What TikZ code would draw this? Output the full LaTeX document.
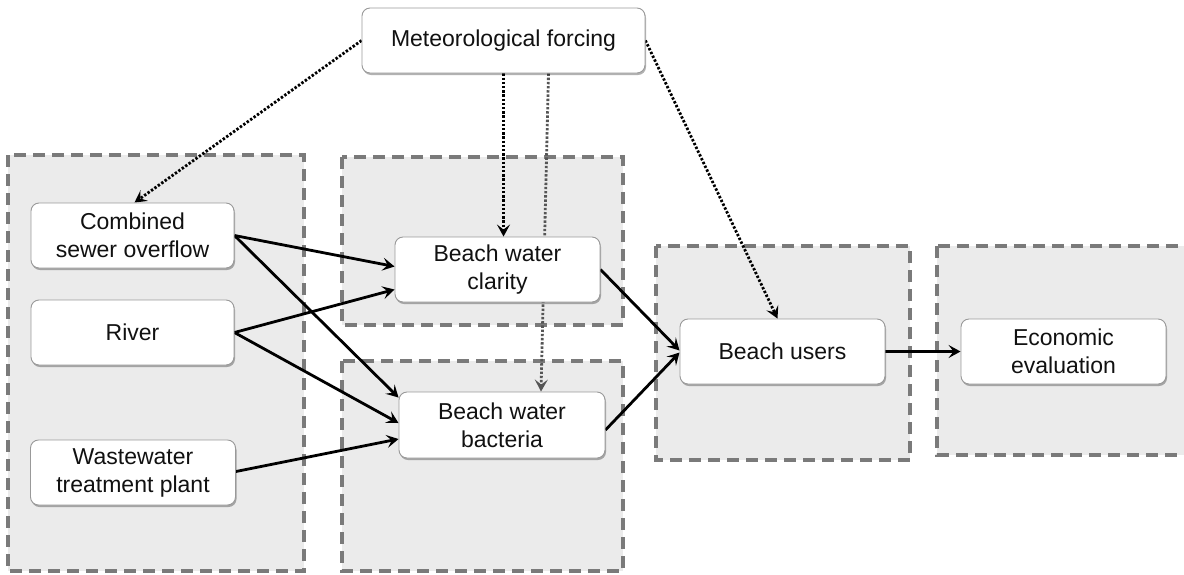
\documentclass[tikz,border=0pt]{standalone}
\usepackage{fontspec}
\setmainfont{Liberation Sans}
\usetikzlibrary{arrows.meta,shadows,calc}
\pgfdeclarelayer{bg}
\pgfdeclarelayer{edges}
\pgfsetlayers{bg,edges,main}
\definecolor{grpfill}{HTML}{EBEBEB}
\definecolor{grpline}{HTML}{7A7A7A}
\definecolor{nodeline}{HTML}{999999}
\definecolor{txt}{HTML}{111111}
\definecolor{dotgray}{HTML}{555555}
\begin{document}
\begin{tikzpicture}[x=1pt,y=-1pt,
  box/.style={draw=nodeline, line width=0.9pt, fill=white, rounded corners=8pt,
    minimum width=205pt, minimum height=65pt, align=center, inner sep=0pt,
    text=txt, font=\fontsize{23}{28}\selectfont,
    drop shadow={shadow xshift=1pt, shadow yshift=-2pt, opacity=0.3, fill=black}},
  group/.style={fill=grpfill, draw=grpline, line width=3.2pt, dash pattern=on 12pt off 7pt},
  flow/.style={line width=2.8pt, black, -{Stealth[length=12pt,width=13pt,inset=5pt]}},
  dotflow/.style={line width=2.8pt, black, dash pattern=on 2.4pt off 1.8pt,
    -{Stealth[length=12pt,width=13pt,inset=5pt]}},
]
\clip (0,0) rectangle (1184,574);

% nodes
\node[box, minimum width=283pt] (met) at (503.5,40.5) {Meteorological forcing};
\node[box, minimum width=203pt] (cso) at (132.5,235.5) {Combined\\sewer overflow};
\node[box, minimum width=203pt] (river) at (132.5,332.5) {River};
\node[box, minimum width=205pt] (wwtp) at (133,472.5) {Wastewater\\treatment plant};
\node[box] (clarity) at (497.5,269.5) {Beach water\\clarity};
\node[box, minimum width=206pt, minimum height=66pt] (bacteria) at (502,425) {Beach water\\bacteria};
\node[box] (users) at (782.5,351.5) {Beach users};
\node[box] (econ) at (1063.5,351.5) {Economic\\evaluation};

% groups
\begin{pgfonlayer}{bg}
\fill[white] (0,0) rectangle (1184,574);
\draw[group] (8,155) rectangle (304,571);
\draw[group] (342,157) rectangle (623,325);
\draw[group] (342,361) rectangle (623,571);
\draw[group] (656,246) rectangle (910,460);
\draw[group] (937,246) rectangle (1200,455);
\end{pgfonlayer}

% connectors
\begin{pgfonlayer}{edges}
\draw[dotflow] (met.west) -- ($(cso.north)+(2,0)$);
\draw[dotflow] (met.south) -- (met.south |- clarity.north);
\draw[dotflow, dotgray] ($(met.south)+(45,0)$) -- ($(bacteria.north)+(39,0)$);
\draw[dotflow] (met.east) -- ($(users.north)+(-5,0)$);

\draw[flow] (cso.east) -- ($(clarity.west)+(0,-3)$);
\draw[flow] (cso.east) -- ($(bacteria.north west)+(0,6)$);
\draw[flow] (river.east) -- ($(clarity.west)+(0,20)$);
\draw[flow] (river.east) -- ($(bacteria.west)+(0,-2)$);
\draw[flow] ($(wwtp.east)+(0,-1)$) -- ($(bacteria.west)+(0,14)$);
\draw[flow] (clarity.east) -- ($(users.west)+(0,-1)$);
\draw[flow] ($(bacteria.east)+(0,5)$) -- ($(users.west)+(0,1)$);
\draw[flow] (users.east) -- (econ.west);
\end{pgfonlayer}
\end{tikzpicture}
\end{document}
